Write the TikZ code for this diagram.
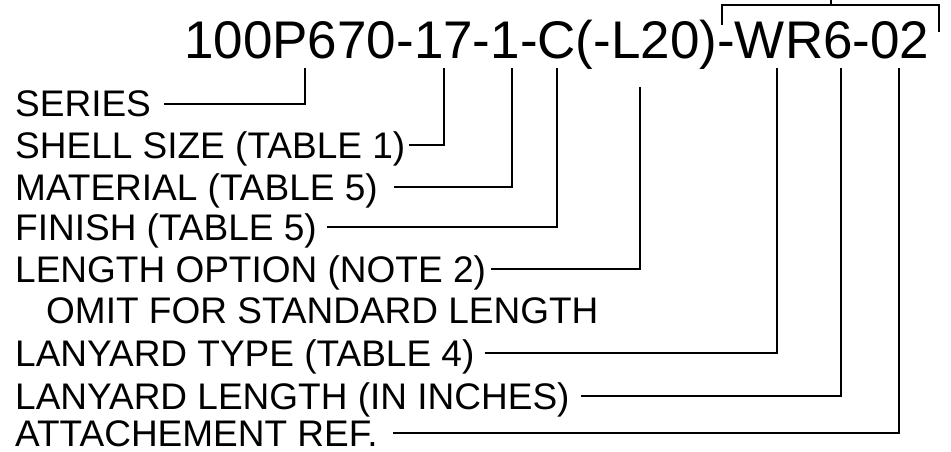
\documentclass[tikz,border=0pt]{standalone}
\usepackage{fontspec}
\setmainfont{Liberation Sans}
\usetikzlibrary{positioning}
\tikzset{
  every picture/.style={x=1pt,y=-1pt,line join=miter},
  partno/.style={anchor=base west,inner sep=0pt,font=\fontsize{53}{60}\selectfont},
  field/.style={anchor=base west,inner sep=0pt,text height=26pt,text depth=0pt,
    font=\fontsize{37}{44}\selectfont},
  lead/.style={line width=1.3pt},
}
\begin{document}
\begin{tikzpicture}
\useasboundingbox(0,0)rectangle(951,452);
% part number
\node[partno](pn)at(184,59){100P670-17-1-C(-L20)-WR6-02};
% feet of the leaders under the part number
\coordinate(tSeries)at(305,68);
\coordinate(tShell)at(444,68);
\coordinate(tMat)at(512,68);
\coordinate(tFin)at(557,68);
\coordinate(tLen)at(640,87);
\coordinate(tType)at(777,68);
\coordinate(tLyLen)at(841,68);
\coordinate(tRef)at(899,68);
% bracket over WR6-02
\coordinate(bl)at(722,25);
\coordinate(br)at(939,32);
\coordinate(bm)at(831,5);
\coordinate(bt)at(831,0);
\draw[lead](bl)|-(bm)-|(br);
\draw[lead](bm)--(bt);
% fields
\node[field](series)at(15,117){SERIES};
\node[field](shell)at(15,158){SHELL SIZE (TABLE 1)};
\node[field](mat)at(15,200){MATERIAL (TABLE 5)};
\node[field](fin)at(15,240){FINISH (TABLE 5)};
\node[field](len)at(15,282){LENGTH OPTION (NOTE 2)};
\node[field](omit)at(46,323){OMIT FOR STANDARD LENGTH};
\node[field](type)at(15,366){LANYARD TYPE (TABLE 4)};
\node[field](lylen)at(15,409){LANYARD LENGTH (IN INCHES)};
\node[field](ref)at(15,446){ATTACHEMENT REF.};
\draw[lead]([xshift=13pt]series.east)-|(tSeries);
\draw[lead]([xshift=4pt]shell.east)-|(tShell);
\draw[lead]([xshift=16pt]mat.east)-|(tMat);
\draw[lead]([xshift=10pt]fin.east)-|(tFin);
\draw[lead]([xshift=5pt]len.east)-|(tLen);
\draw[lead]([xshift=10pt]type.east)-|(tType);
\draw[lead]([xshift=11pt]lylen.east)-|(tLyLen);
\draw[lead]([xshift=15pt]ref.east)-|(tRef);
\end{tikzpicture}
\end{document}
